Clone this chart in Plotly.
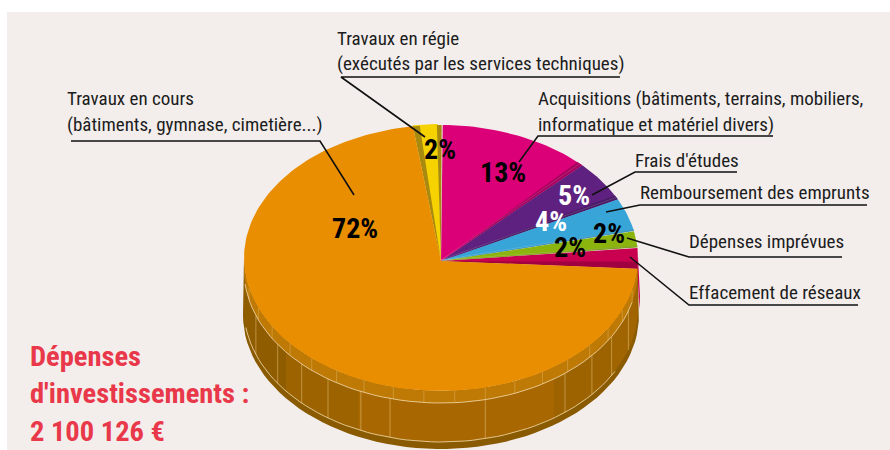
import math
import plotly.graph_objects as go

categories = ["Acquisitions", "Frais d'études", "Remboursement des emprunts", "Dépenses imprévues",
              "Effacement de réseaux", "Travaux en cours", "Travaux en régie"]
shares = [13, 5, 4, 2, 2, 72, 2]
top_colors = ["#dc0078", "#5e217f", "#38a5d8", "#8cb40f", "#c9004f", "#e98e00", "#f6d200"]
wall_colors = ["#a8005f", "#491a66", "#2f8dbb", "#7a9c10", "#a00040", "#bf7a05", "#a88a10"]
wall_widths = [2.0, 1.8, 1.0, 1.0]
share_labels = ["13%", "5%", "4%", "2%", "2%", "72%", "2%"]
label_colors = ["black", "white", "white", "black", "black", "black", "black"]
share_label_xy = [(503, 172), (574, 195), (551, 221), (609, 233), (570, 247), (355, 228), (440, 149)]

callouts = [
    (["Travaux en cours", "(bâtiments, gymnase, cimetière...)"], 67, [98, 124], [(71, 141), (320, 141), (354, 195)]),
    (["Travaux en régie", "(exécutés par les services techniques)"], 337, [38, 63], [(620, 77), (341, 77), (425, 137)]),
    (["Acquisitions (bâtiments, terrains, mobiliers,", "informatique et matériel divers)"], 538, [98, 124], [(773, 136), (538, 136), (519, 162)]),
    (["Frais d'études"], 635, [160], [(737, 172), (635, 172), (592, 195)]),
    (["Remboursement des emprunts"], 640, [192], [(867, 205), (640, 205), (606, 212)]),
    (["Dépenses imprévues"], 689, [241], [(842, 257), (689, 257), (627, 238)]),
    (["Effacement de réseaux"], 689, [292], [(858, 305), (689, 305), (630, 257)]),
]
title_lines = ["Dépenses", "d'investissements :", "2 100 126 €"]
title_ys = [356, 393, 431]

CX, CY, RX, RY = 441, 258, 197, 133
AX, AY = 441, 261
ROT = -1.0
FONT = "Roboto Condensed, Roboto, sans-serif"


def rim(t, dy=0, grow=0):
    r = math.radians(t)
    return CX + (RX + grow) * math.sin(r), CY + dy - (RY + grow) * math.cos(r)


def arc(a, b, dy=0, grow=0, n=60):
    pts = [rim(a + (b - a) * i / n, dy, grow) for i in range(n + 1)]
    return [p[0] for p in pts], [p[1] for p in pts]


fig = go.Figure()


def poly(xs, ys, color, line=0, lc=None):
    fig.add_trace(go.Scatter(x=list(xs) + [xs[0]], y=list(ys) + [ys[0]], mode="lines", fill="toself",
                             fillcolor=color, line=dict(width=line, color=lc or color),
                             hoverinfo="skip", showlegend=False))


def stroke(xs, ys, color, width):
    fig.add_trace(go.Scatter(x=xs, y=ys, mode="lines", line=dict(width=width, color=color),
                             hoverinfo="skip", showlegend=False))


# angular limits from the shares
angles = []
c = 0
for s in shares:
    angles.append((c * 3.6 + ROT, (c + s) * 3.6 + ROT))
    c += s
o_a, o_b = angles[5]

# drum of the big slice
a0, a1 = o_a, 270
x1, y1 = arc(a0, a1, 57, 1)
x2, y2 = arc(a1, a0, 0, 0)
poly(x1 + x2, y1 + y2, "#8a5a00")
facets = [(93, 118, "#9c6300"), (118, 145, "#9c6300"), (145, 205, "#a86700"), (205, 232, "#9c6300"), (232, 270, "#8f5c00")]
for a, b, col in facets:
    x1, y1 = arc(a, b, 51, 0, 30)
    x2, y2 = arc(b, a, 0, 0, 30)
    poly(x1 + x2, y1 + y2, col)
x1, y1 = arc(a0, a1, 12, 0)
x2, y2 = arc(a1, a0, 0, 0)
poly(x1 + x2, y1 + y2, "#bf7a05")
# thin side of the crimson slice
x1, y1 = arc(angles[4][0] + 4, angles[4][1] + 2, 40, 2, 20)
x2, y2 = arc(angles[4][1] + 2, angles[4][0] + 4, 0, 0, 20)
poly(x1 + x2, y1 + y2, "#c9004f")
x1, y1 = arc(a0 + 2, 120, 50, 0, 30)
x2, y2 = arc(120, a0 + 2, 0, 0, 30)
poly(x1 + x2, y1 + y2, "#a06400")
x1, y1 = arc(a0 + 2, 120, 12, 0, 30)
x2, y2 = arc(120, a0 + 2, 0, 0, 30)
poly(x1 + x2, y1 + y2, "#bf7a05")

for d in [108, 120, 130, 141, 167, 195, 204, 215, 225, 236, 250]:
    px, py = rim(d, 12)
    stroke([px, px], [py, py + 39], "rgba(235,200,130,0.5)", 1)
for d in range(104, 262, 9):
    p, q = rim(d), rim(d, 12)
    stroke([p[0], q[0]], [p[1], q[1]], "rgba(235,200,130,0.45)", 0.8)
for dy, start in [(12, 104), (51, 118)]:
    xs, ys = arc(start, 264 if dy == 12 else 262, dy)
    stroke(xs, ys, "rgba(240,215,165,0.85)", 1)

# upper slices: faces, then their inner walls
for i in [0, 1, 2, 3, 4]:
    a, b = angles[i]
    xs, ys = arc(a + (1.5 if i == 0 else 0), b + (2 if i == 4 else 0), 0, 0, 30)
    poly([AX] + xs, [AY] + ys, top_colors[i])
for i in [0, 1, 2, 3]:
    b = angles[i][1]
    w = wall_widths[i]
    xs, ys = arc(b - w, b, 0, 0, 4)
    poly([AX] + xs, [AY] + ys, wall_colors[i])
    p = rim(b - w / 2)
    stroke([AX, p[0]], [AY - 1, p[1]], "rgba(255,255,255,0.25)", 0.6)
b = angles[4][1] + 2
xs, ys = arc(b - 3, b, 0, 0, 4)
poly([AX] + xs, [AY] + ys, wall_colors[4])

ya, yb = angles[6]
xs, ys = arc(ya, yb, 0, 1, 10)
poly([AX] + xs, [AY] + ys, top_colors[6])
xs, ys = arc(ya, ya + 2, 0, 0, 4)
poly([AX] + xs, [AY] + ys, wall_colors[6])
xs, ys = arc(yb - 0.2, yb + 1.2, 0, 0, 4)
poly([AX] + xs, [AY] + ys, wall_colors[6])

# big slice face
xs, ys = arc(o_a + 2, o_b, 0, 0, 200)
poly([AX] + xs, [AY] + ys, top_colors[5])

for (lines, lx, lys, path) in callouts:
    stroke([p[0] for p in path], [p[1] for p in path], "#111111", 1.6)

ann = []
common = dict(yanchor="middle", showarrow=False, borderpad=0, borderwidth=0)
for (lines, lx, lys, path) in callouts:
    for t, ly in zip(lines, lys):
        ann.append(dict(x=lx, y=ly, text=t, xanchor="left",
                        font=dict(family=FONT, size=19, color="#1c1c1c"), **common))
for t, (lx, ly), col in zip(share_labels, share_label_xy, label_colors):
    ann.append(dict(x=lx, y=ly, text="<b>%s</b>" % t, xanchor="center",
                    font=dict(family=FONT, size=28, color=col), **common))
for t, ly in zip(title_lines, title_ys):
    ann.append(dict(x=30, y=ly, text="<b>%s</b>" % t, xanchor="left",
                    font=dict(family=FONT, size=28.5, color="#e8384a"), **common))

fig.update_layout(
    width=890, height=450, margin=dict(l=0, r=0, t=0, b=0), showlegend=False,
    paper_bgcolor="white", plot_bgcolor="white",
    xaxis=dict(range=[0, 890], visible=False, fixedrange=True),
    yaxis=dict(range=[450, 0], visible=False, fixedrange=True),
    annotations=ann,
    shapes=[dict(type="rect", layer="below", x0=7, x1=890, y0=12, y1=450, fillcolor="#f3eeec", line=dict(width=0))],
)
fig.write_html("out.html", config=dict(displayModeBar=False),
               post_script="document.body.style.margin='0';")
